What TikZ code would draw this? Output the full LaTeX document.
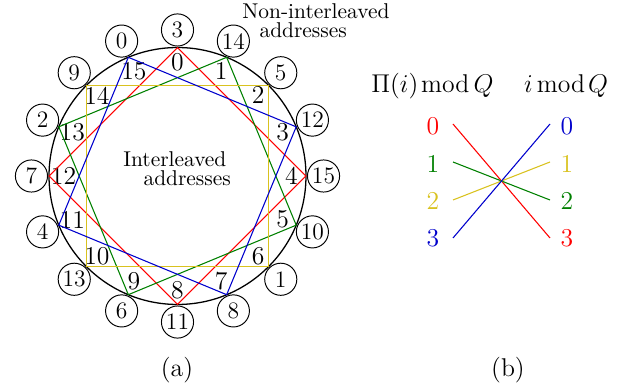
\documentclass[tikz,border=0pt]{standalone}
\usetikzlibrary{calc}
\definecolor{cred}{rgb}{1,0,0}
\definecolor{cgreen}{rgb}{0,0.5,0}
\definecolor{cyellow}{rgb}{0.85,0.76,0.12}
\definecolor{cblue}{rgb}{0,0,0.8}
\begin{document}
\begin{tikzpicture}[x=0.467pt,y=-0.467pt,
  addr/.style={circle,draw,line width=0.45pt,minimum size=15pt,inner sep=0pt,font=\fontsize{11}{13}\selectfont},
  ilabel/.style={inner sep=0pt,font=\large},
  poly/.style={line width=0.5pt},
  dig/.style={inner sep=0pt,font=\large},
  head/.style={anchor=base,inner sep=0pt,font=\large},
  captxt/.style={font=\large,anchor=base,inner sep=0pt}]
\useasboundingbox (0,0) rectangle (628,387);
\coordinate (C) at (177.5,176);
\draw[line width=0.6pt] (C) circle[radius=60pt];
\foreach \k/\n in {0/3,1/14,2/5,3/12,4/15,5/10,6/1,7/8,8/11,9/6,10/13,11/4,12/7,13/2,14/9,15/0}{
  \pgfmathsetmacro\a{90-22.5*\k}
  \coordinate (v\k) at ($(C)+(\a:60pt)$);
  \node[addr,fill=white] (o\k) at ($(C)+(\a:68.2pt)$) {\n};
  \node[ilabel] (i\k) at ($(C)+(\a:53.2pt)$) {\k};
}
\draw[poly,cred] (v0)--(v4)--(v8)--(v12)--cycle;
\draw[poly,cgreen] (v1)--(v5)--(v9)--(v13)--cycle;
\draw[poly,cyellow] (v2)--(v6)--(v10)--(v14)--cycle;
\draw[poly,cblue] (v3)--(v7)--(v11)--(v15)--cycle;
\node[inner sep=0pt,anchor=north west,align=left] (inter) at (123,151)
  {Interleaved\\[-3pt]\hspace*{9.4pt}addresses};
\node[inner sep=0pt,anchor=north west,align=left] (noninter) at (242,3)
  {Non-interleaved\\[-3pt]\hspace*{8pt}addresses};
% part (b)
\node[head] (h1) at (432.5,93) {$\Pi(i)\mkern2mu\mathrm{mod}\mkern3mu Q$};
\node[head] (h2) at (566,93) {$i\,\mathrm{mod}\mkern2mu Q$};
\node[dig,text=cred] (l0) at (433,126) {0};
\node[dig,text=cgreen] (l1) at (433,164) {1};
\node[dig,text=cyellow] (l2) at (433,201) {2};
\node[dig,text=cblue] (l3) at (433,238) {3};
\node[dig,text=cblue] (r0) at (567,126) {0};
\node[dig,text=cyellow] (r1) at (567,164) {1};
\node[dig,text=cgreen] (r2) at (567,201) {2};
\node[dig,text=cred] (r3) at (567,238) {3};
\coordinate (a0) at (453,124);
\coordinate (a1) at (453,162);
\coordinate (a2) at (453,200);
\coordinate (a3) at (453,238);
\coordinate (b0) at (550,124);
\coordinate (b1) at (550,162);
\coordinate (b2) at (550,200);
\coordinate (b3) at (550,238);
\draw[poly,cred] (a0)--(b3);
\draw[poly,cgreen] (a1)--(b2);
\draw[poly,cyellow] (a2)--(b1);
\draw[poly,cblue] (a3)--(b0);
\node[captxt] (capa) at (177,377) {(a)};
\node[captxt] (capb) at (508,377) {(b)};
\end{tikzpicture}
\end{document}
